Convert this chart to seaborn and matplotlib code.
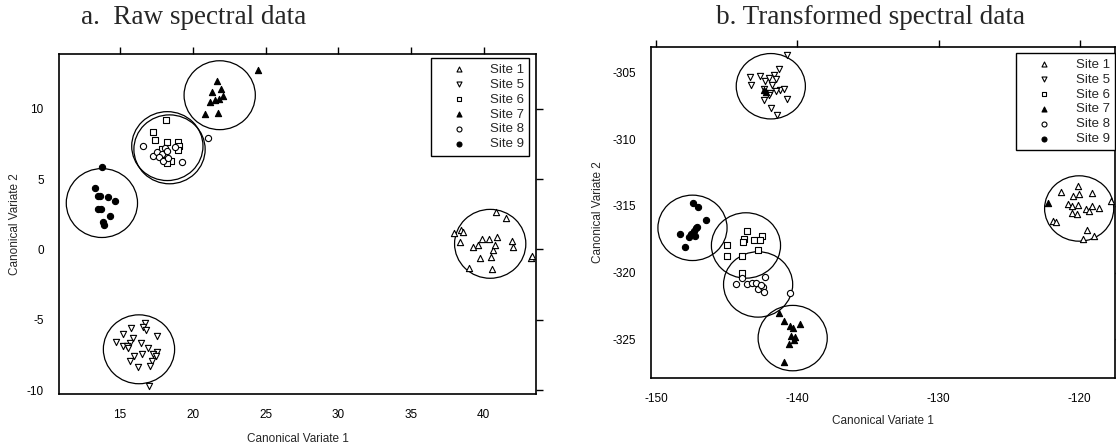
import pandas as pd
import matplotlib.pyplot as plt
import seaborn as sns
from matplotlib.patches import Circle

# Site labels and how each one is drawn
sites = ["Site 1", "Site 5", "Site 6", "Site 7", "Site 8", "Site 9"]
site_markers = ["^", "v", "s", "^", "o", "o"]
site_filled = [False, False, False, True, False, True]

# a. Raw spectral data (canonical variate scores)
raw_s1_x = [37.96, 38.35, 38.47, 38.57, 39.26, 39.63, 39.88, 39.75, 39.01, 40.37, 40.5,
            40.55, 40.65, 40.85, 40.95, 41.55, 41.95, 42.0, 43.25, 43.35, 40.75]
raw_s1_y = [1.15, 0.53, 1.39, 1.22, 0.20, 0.32, 0.77, -0.63, -1.34, 0.77, -0.56,
            -1.38, -0.04, 2.69, 0.91, 2.22, 0.63, 0.20, -0.63, -0.46, 0.35]
raw_s5_x = [16.71, 16.55, 16.78, 15.73, 15.18, 17.51, 15.87, 14.73, 15.68, 16.44, 15.18, 15.46,
            15.57, 16.94, 17.51, 17.28, 16.48, 17.47, 15.96, 17.17, 15.68, 16.25, 17.05, 17.01]
raw_s5_y = [-5.20, -5.48, -5.72, -5.56, -6.03, -6.19, -6.33, -6.57, -6.62, -6.62, -6.90, -6.86,
            -7.04, -7.04, -7.28, -7.40, -7.45, -7.57, -7.61, -7.92, -7.92, -8.39, -8.27, -9.74]
raw_s6_x = [18.13, 17.28, 17.40, 18.24, 18.99, 19.06, 18.99, 17.86, 18.01, 18.49, 18.20]
raw_s6_y = [9.20, 8.32, 7.80, 7.61, 7.61, 7.38, 7.04, 7.14, 6.33, 6.31, 6.15]
raw_s7_x = [24.48, 21.65, 21.95, 21.35, 22.09, 21.16, 21.50, 21.77, 20.84, 21.75]
raw_s7_y = [12.73, 11.95, 11.42, 11.19, 10.88, 10.47, 10.64, 10.69, 9.62, 9.69]
raw_s8_x = [16.60, 17.28, 17.55, 17.86, 18.08, 18.20, 17.69, 17.97, 18.77, 19.23, 21.05, 18.31]
raw_s8_y = [7.33, 6.67, 6.90, 6.81, 7.21, 6.97, 6.55, 6.26, 7.28, 6.22, 7.92, 6.50]
raw_s9_x = [13.75, 13.29, 13.63, 13.45, 14.20, 14.66, 13.45, 13.70, 14.32, 13.81, 13.86]
raw_s9_y = [5.84, 4.35, 3.83, 3.78, 3.71, 3.45, 2.91, 2.91, 2.36, 1.94, 1.77]
raw_circle_x = [40.45, 16.3, 18.25, 21.85, 18.4, 13.75]
raw_circle_y = [0.4, -7.1, 7.35, 10.97, 7.12, 3.3]

# b. Transformed spectral data
tr_s1_x = [-120.10, -121.35, -120.45, -120.03, -119.15, -120.81, -120.57, -120.10, -120.57, -120.21,
           -119.55, -119.32, -119.15, -118.61, -121.87, -121.68, -119.46, -119.79, -118.96, -117.80]
tr_s1_y = [-313.55, -313.96, -314.26, -314.08, -314.01, -314.83, -315.02, -314.94, -315.57, -315.64,
           -315.26, -315.39, -315.02, -315.14, -316.15, -316.22, -316.83, -317.48, -317.23, -314.64]
tr_s5_x = [-140.74, -141.30, -141.68, -143.33, -142.67, -142.32, -142.04, -141.54, -143.26, -141.84,
           -142.39, -141.96, -142.01, -141.26, -140.97, -141.54, -140.74, -142.39, -141.89, -141.45]
tr_s5_y = [-303.69, -304.75, -305.20, -305.33, -305.25, -305.66, -305.45, -305.50, -305.96, -305.96,
           -306.26, -306.51, -306.71, -306.34, -306.26, -306.41, -306.96, -307.09, -307.67, -308.22]
tr_s6_x = [-143.57, -143.81, -143.10, -142.48, -142.67, -144.99, -143.86, -144.99, -142.79, -143.90, -143.90]
tr_s6_y = [-316.90, -317.48, -317.58, -317.28, -317.58, -317.91, -317.68, -318.74, -318.28, -318.74, -320.04]
tr_s7_x = [-141.30, -140.97, -140.50, -140.31, -139.79, -140.43, -140.26, -140.60, -140.97, -140.17,
           -142.40, -142.25, -122.23]
tr_s7_y = [-323.06, -323.62, -324.02, -324.12, -323.82, -324.77, -325.02, -325.38, -326.71, -324.83,
           -306.30, -306.45, -314.76]
tr_s8_x = [-144.38, -143.90, -143.57, -143.19, -142.91, -142.77, -142.44, -142.30, -142.39, -142.55, -140.50]
tr_s8_y = [-320.85, -320.42, -320.85, -320.80, -320.80, -321.20, -321.05, -320.30, -321.43, -320.92, -321.50]
tr_s9_x = [-147.40, -147.05, -146.45, -148.30, -147.21, -147.35, -147.52, -147.69, -147.28, -147.99, -147.12]
tr_s9_y = [-314.81, -315.06, -316.07, -317.10, -316.65, -316.90, -317.08, -317.33, -317.23, -318.08, -316.57]
tr_circle_x = [-120.04, -141.89, -143.65, -140.34, -142.79, -147.44]
tr_circle_y = [-315.20, -306.04, -317.97, -324.91, -320.89, -316.65]

circle_radius = 2.45


def make_frame(xs, ys):
    rows = []
    for site, x, y in zip(sites, xs, ys):
        rows.append(pd.DataFrame({"site": site, "cv1": x, "cv2": y}))
    return pd.concat(rows, ignore_index=True)


raw_df = make_frame([raw_s1_x, raw_s5_x, raw_s6_x, raw_s7_x, raw_s8_x, raw_s9_x],
                    [raw_s1_y, raw_s5_y, raw_s6_y, raw_s7_y, raw_s8_y, raw_s9_y])
tr_df = make_frame([tr_s1_x, tr_s5_x, tr_s6_x, tr_s7_x, tr_s8_x, tr_s9_x],
                   [tr_s1_y, tr_s5_y, tr_s6_y, tr_s7_y, tr_s8_y, tr_s9_y])

sns.set_style("white")
plt.rcParams["font.family"] = ["Liberation Sans", "DejaVu Sans"]
plt.rcParams["axes.unicode_minus"] = False


def draw_panel(ax, df, cx, cy, xlim, ylim, xticks, yticks, legend_anchor):
    for site, mk, fill in zip(sites, site_markers, site_filled):
        d = df[df["site"] == site]
        sns.scatterplot(data=d, x="cv1", y="cv2", ax=ax, marker=mk, s=20,
                        facecolor="black" if fill else "white", edgecolor="black",
                        linewidth=0.8, label=site, zorder=3)
    for x0, y0 in zip(cx, cy):
        ax.add_patch(Circle((x0, y0), circle_radius, fill=False, ec="black", lw=0.9, zorder=2))
    ax.set_xlim(xlim)
    ax.set_ylim(ylim)
    ax.set_xticks(xticks)
    ax.set_yticks(yticks)
    ax.set_xlabel("Canonical Variate 1", fontsize=8.5)
    ax.set_ylabel("Canonical Variate 2", fontsize=8.5)
    for sp in ax.spines.values():
        sp.set_visible(True)
        sp.set_color("black")
        sp.set_linewidth(1.2)
    ax.tick_params(direction="out", length=5, width=1, top=True, right=True,
                   labeltop=False, labelright=False, labelsize=8.5, pad=6, colors="black")
    leg = ax.legend(loc="upper right", bbox_to_anchor=legend_anchor, borderaxespad=0,
                    fontsize=9.5, markerscale=0.8, handlelength=3.4, handletextpad=0.68,
                    labelspacing=0.2, borderpad=0.4, fancybox=False, framealpha=1)
    leg.get_frame().set_edgecolor("black")
    leg.get_frame().set_linewidth(1)


fig = plt.figure(figsize=(11.16, 4.47), dpi=100)
ax1 = fig.add_axes([59 / 1116, 53 / 447, 477 / 1116, 340 / 447])
ax2 = fig.add_axes([651 / 1116, 69 / 447, 464 / 1116, 331 / 447])

draw_panel(ax1, raw_df, raw_circle_x, raw_circle_y, (10.8, 43.6), (-10.28, 13.9),
           [15, 20, 25, 30, 35, 40], [-10, -5, 0, 5, 10], (0.986, 0.987))
draw_panel(ax2, tr_df, tr_circle_x, tr_circle_y, (-150.38, -117.5), (-327.9, -303.1),
           [-150, -140, -130, -120], [-325, -320, -315, -310, -305], (1.0, 0.981))

ax1.yaxis.set_label_coords(-0.08, 0.5)
ax1.xaxis.set_label_coords(0.5, -0.115)
ax2.yaxis.set_label_coords(-0.101, 0.5)
ax2.xaxis.set_label_coords(0.5, -0.112)

fig.text(81 / 1116, 1 - 18 / 447, "a.  Raw spectral data", family="Liberation Serif",
         fontsize=19.5, ha="left", va="center")
fig.text(871 / 1116, 1 - 18 / 447, "b. Transformed spectral data", family="Liberation Serif",
         fontsize=19.5, ha="center", va="center")

fig.savefig("out.png", dpi=100)
